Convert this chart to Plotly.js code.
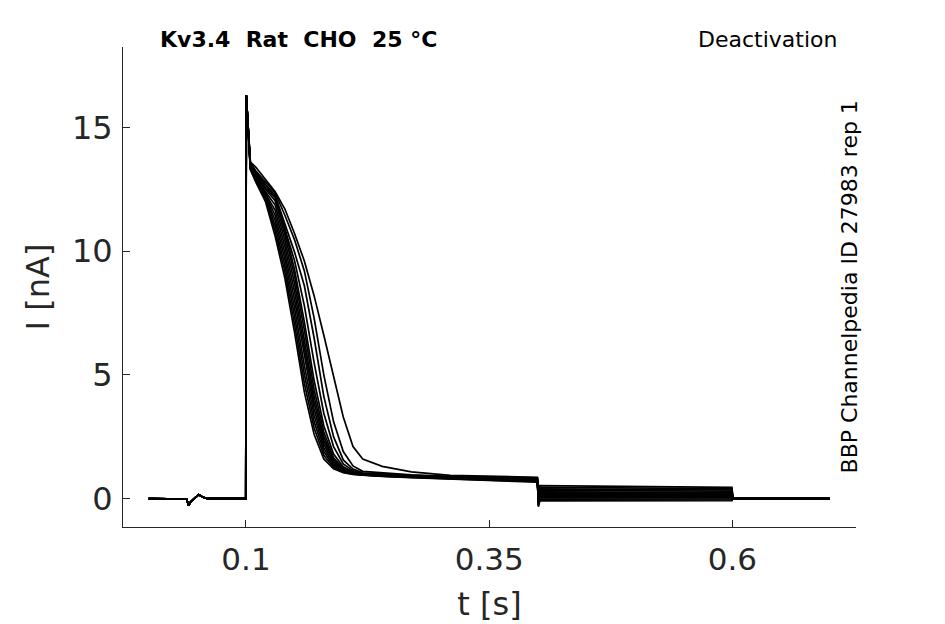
<!DOCTYPE html>
<html>
<head>
<meta charset="utf-8">
<script src="https://cdn.plot.ly/plotly-3.0.1.min.js"></script>
<style>
  body { margin: 0; background: #fff; }
  #plot { width: 945px; height: 624px; }
</style>
</head>
<body>
<div id="plot"></div>
<script>
// time points shared by every sweep (s)
var preT = [0, 0.039, 0.041, 0.043, 0.0513, 0.0548, 0.06, 0.0998, 0.1003];
var preI = [0, -0.02, -0.28, -0.14, 0.16, 0.07, 0, 0, 16.3];

var decayT = [0.1045, 0.11, 0.12, 0.13, 0.14, 0.15, 0.16, 0.17, 0.18, 0.19,
              0.2, 0.21, 0.22, 0.24, 0.27, 0.31, 0.35, 0.3995];

// current of each sweep on decayT (nA)
var sweep1  = [13.3, 12.8, 12.0, 10.6, 8.9, 6.7, 4.3, 2.6, 1.6, 1.2, 1.05, 0.98, 0.95, 0.9, 0.84, 0.78, 0.73, 0.66];
var sweep2  = [13.3, 12.85, 12.1, 10.81, 9.16, 7.03, 4.66, 2.86, 1.75, 1.26, 1.07, 0.99, 0.95, 0.91, 0.87, 0.81, 0.77, 0.72];
var sweep3  = [13.35, 12.9, 12.2, 11.02, 9.41, 7.36, 5.02, 3.11, 1.9, 1.32, 1.1, 1.0, 0.96, 0.91, 0.85, 0.79, 0.74, 0.68];
var sweep4  = [13.35, 12.9, 12.25, 11.23, 9.67, 7.69, 5.38, 3.37, 2.05, 1.38, 1.12, 1.01, 0.96, 0.92, 0.88, 0.82, 0.78, 0.74];
var sweep5  = [13.4, 12.95, 12.3, 11.44, 9.92, 8.02, 5.74, 3.62, 2.2, 1.44, 1.14, 1.02, 0.97, 0.92, 0.87, 0.81, 0.76, 0.7];
var sweep6  = [13.4, 13.0, 12.35, 11.65, 10.18, 8.35, 6.1, 3.88, 2.35, 1.5, 1.16, 1.03, 0.97, 0.93, 0.89, 0.83, 0.79, 0.75];
var sweep7  = [13.45, 13.0, 12.4, 11.86, 10.43, 8.68, 6.46, 4.13, 2.5, 1.56, 1.19, 1.04, 0.98, 0.94, 0.9, 0.84, 0.8, 0.77];
var sweep8  = [13.45, 13.05, 12.5, 12.04, 10.67, 8.99, 6.81, 4.42, 2.69, 1.65, 1.22, 1.05, 0.98, 0.95, 0.89, 0.83, 0.79, 0.73];
var sweep9  = [13.5, 13.1, 12.55, 12.16, 10.88, 9.24, 7.14, 4.78, 2.94, 1.8, 1.28, 1.08, 0.99, 0.96, 0.91, 0.86, 0.82, 0.79];
var sweep10 = [13.5, 13.15, 12.65, 12.2, 10.95, 9.6, 7.8, 5.5, 3.45, 2.1, 1.4, 1.13, 1.0, 0.98, 0.92, 0.86, 0.83, 0.8];
var sweep11 = [13.55, 13.2, 12.7, 12.25, 11.1, 9.95, 8.6, 6.5, 4.13, 2.5, 1.56, 1.19, 1.04, 0.99, 0.94, 0.88, 0.84, 0.81];
var sweep12 = [13.6, 13.25, 12.8, 12.35, 11.45, 10.45, 9.2, 7.3, 5.0, 3.11, 1.9, 1.32, 1.1, 1.05, 0.96, 0.9, 0.86, 0.84];
var sweep13 = [13.6, 13.4, 12.9, 12.4, 11.7, 10.7, 9.6, 8.2, 6.6, 5.0, 3.3, 2.1, 1.6, 1.3, 1.08, 0.94, 0.9, 0.86];
var sweeps = [sweep1, sweep2, sweep3, sweep4, sweep5, sweep6, sweep7,
              sweep8, sweep9, sweep10, sweep11, sweep12, sweep13];

// deactivation step: transient, start and end of tail current (nA)
var tailT = [0.4005, 0.402, 0.5995, 0.6005, 0.7];
var tailSpike = [0.3, 0.22, 0.15, 0.1, 0.04, -0.01, -0.06, -0.11, -0.16, -0.2, -0.25, -0.29, -0.33];
var tailStart = [0.52, 0.45, 0.39, 0.33, 0.27, 0.22, 0.17, 0.12, 0.07, 0.03, -0.02, -0.06, -0.1];
var tailEnd   = [0.45, 0.40, 0.35, 0.30, 0.25, 0.20, 0.16, 0.11, 0.07, 0.03, -0.01, -0.05, -0.09];
var afterI = [0, 0];

var xTicks = [0.1, 0.35, 0.6];
var xTickText = ['0.1', '0.35', '0.6'];
var yTicks = [0, 5, 10, 15];

var plotData = [];
for (var i = 0; i < sweeps.length; i++) {
    var x = preT.concat(decayT, tailT);
    var y = preI.concat(sweeps[i], [tailSpike[i], tailStart[i], tailEnd[i]], afterI);
    plotData.push({
        type: 'scatter',
        mode: 'lines',
        x: x,
        y: y,
        line: {color: '#000000', width: 1.7},
        hoverinfo: 'skip',
        showlegend: false
    });
}

var axisColor = '#262626';
var font = 'DejaVu Sans, Verdana, sans-serif';

var layout = {
    width: 945,
    height: 624,
    margin: {l: 123, r: 89, t: 47, b: 97},
    paper_bgcolor: '#ffffff',
    plot_bgcolor: '#ffffff',
    font: {family: font, color: axisColor},
    xaxis: {
        range: [-0.0264, 0.727],
        tickvals: xTicks,
        ticktext: xTickText,
        ticks: 'inside',
        ticklen: 7,
        tickcolor: axisColor,
        showline: true,
        linecolor: axisColor,
        linewidth: 1,
        showgrid: false,
        zeroline: false,
        ticklabelstandoff: 5,
        tickfont: {size: 31, color: axisColor},
        title: {text: 't [s]', font: {size: 32, color: axisColor}, standoff: 16}
    },
    yaxis: {
        range: [-1.15, 18.25],
        tickvals: yTicks,
        ticks: 'inside',
        ticklen: 7,
        tickcolor: axisColor,
        showline: true,
        linecolor: axisColor,
        linewidth: 1,
        showgrid: false,
        zeroline: false,
        ticklabelstandoff: 3,
        tickfont: {size: 32, color: axisColor},
        title: {text: 'I [nA]', font: {size: 32, color: axisColor}, standoff: 12}
    },
    annotations: [
        {
            text: '<b>Kv3.4\u00a0\u00a0Rat\u00a0\u00a0CHO\u00a0\u00a025 \u00b0C</b>',
            xref: 'paper', yref: 'paper',
            x: 0.0477, y: 1.0146, xanchor: 'left', yanchor: 'middle',
            showarrow: false,
            font: {size: 22, color: '#000000'}
        },
        {
            text: 'Deactivation',
            xref: 'paper', yref: 'paper',
            x: 0.9768, y: 1.0146, xanchor: 'right', yanchor: 'middle',
            showarrow: false,
            font: {size: 22, color: '#000000'}
        },
        {
            text: 'BBP Channelpedia ID 27983 rep 1',
            xref: 'paper', yref: 'paper',
            x: 0.991, y: 0.5, xanchor: 'center', yanchor: 'middle',
            textangle: -90,
            showarrow: false,
            font: {size: 22, color: '#000000'}
        }
    ]
};

Plotly.newPlot('plot', plotData, layout, {staticPlot: true});
</script>
</body>
</html>
